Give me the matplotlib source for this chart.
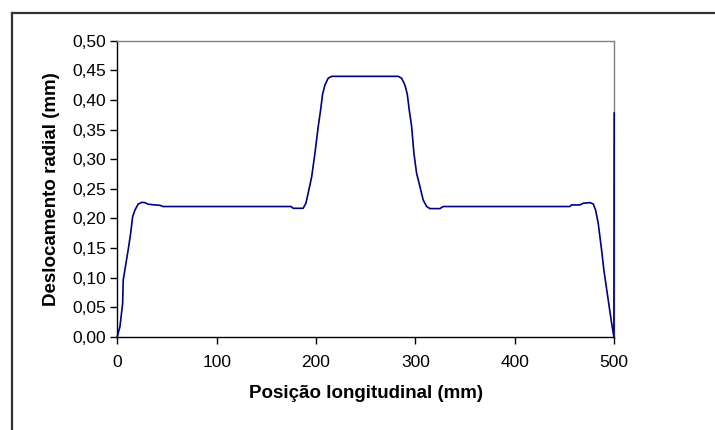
import matplotlib
matplotlib.use("Agg")
import matplotlib.pyplot as plt
from matplotlib.lines import Line2D

plt.rcParams['font.family'] = ['Liberation Sans', 'DejaVu Sans']

# posicao longitudinal (mm) and deslocamento radial (mm)
pos = [0, 2.7, 5.4, 6, 7.7, 11, 13.5, 15.5, 17.8, 21, 24.5, 27.9, 31, 36, 43, 46,
       175, 177, 187, 189.8, 192, 195.6, 198.9, 202.2, 204.6, 206.6, 209, 212.3, 215.7,
       282.7, 286, 289.4, 291.8, 293.8, 296.2, 298.5, 301.2, 304.5, 307.8, 311.3, 314.6,
       324.6, 328, 455.4, 457.1, 465.5, 468.8, 475.5, 478.9, 481.3, 483.9, 487.3, 489.6,
       494, 497.4, 499.7, 500]
desl = [0, 0.017, 0.056, 0.096, 0.113, 0.147, 0.175, 0.203, 0.214, 0.224, 0.227, 0.2266,
        0.224, 0.223, 0.222, 0.22,
        0.22, 0.217, 0.217, 0.2255, 0.242, 0.27, 0.31, 0.355, 0.383, 0.41, 0.4256, 0.437, 0.44,
        0.44, 0.437, 0.4256, 0.41, 0.383, 0.355, 0.31, 0.276, 0.254, 0.231, 0.22, 0.2165,
        0.2165, 0.22, 0.22, 0.2227, 0.2227, 0.2255, 0.2266, 0.2244, 0.214, 0.192, 0.147, 0.113,
        0.062, 0.023, 0.0, 0.378]

xticks = [0, 100, 200, 300, 400, 500]
yticks = [0.00, 0.05, 0.10, 0.15, 0.20, 0.25, 0.30, 0.35, 0.40, 0.45, 0.50]

fig = plt.figure(figsize=(7.15, 4.30), dpi=100)
ax = fig.add_axes([0.164, 0.217, 0.695, 0.688])

ax.plot(pos, desl, color='#000080', lw=1.2, clip_on=False, zorder=3)

ax.set_xlim(0, 500)
ax.set_ylim(0, 0.5)
ax.set_xticks(xticks)
ax.set_yticks(yticks)
ax.set_yticklabels([('%.2f' % v).replace('.', ',') for v in yticks])
ax.tick_params(direction='out', length=5, width=1, labelsize=12.5, pad=3)
ax.tick_params(axis='x', pad=8)

for s in ['left', 'bottom']:
    ax.spines[s].set_color('black')
    ax.spines[s].set_linewidth(1)
for s in ['top', 'right']:
    ax.spines[s].set_color('#808080')
    ax.spines[s].set_linewidth(1)

ax.set_xlabel('Posição longitudinal (mm)', fontsize=13.5, fontweight='bold', labelpad=11)
ax.set_ylabel('Deslocamento radial (mm)', fontsize=13.5, fontweight='bold', labelpad=9)

# chart area border (runs off the right and bottom of the image)
fig.add_artist(Line2D([12 / 715, 12 / 715], [1 - 13 / 430, -0.1], color='#333333', lw=1.6,
                      transform=fig.transFigure))
fig.add_artist(Line2D([12 / 715, 1.1], [1 - 13 / 430, 1 - 13 / 430], color='#333333', lw=1.6,
                      transform=fig.transFigure))

fig.savefig('out.png', dpi=100)
